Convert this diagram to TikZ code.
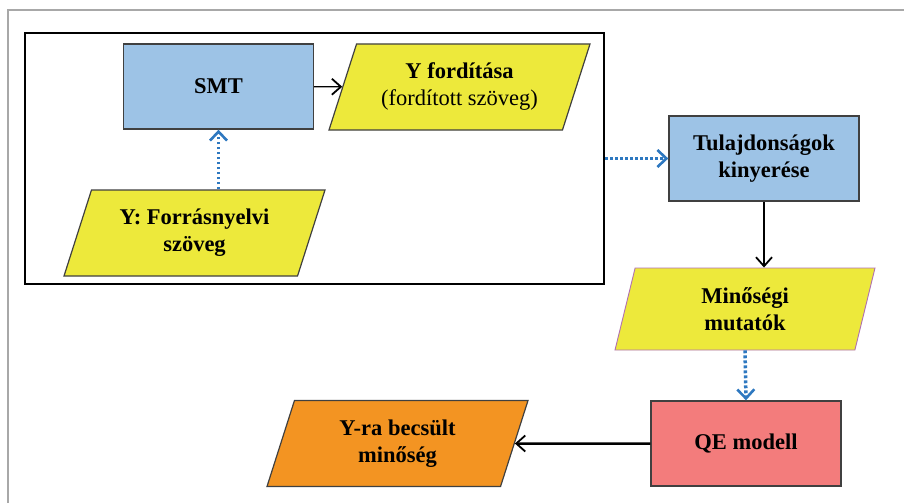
\documentclass[tikz,border=0pt]{standalone}
\usepackage{fontspec}
\setmainfont{Liberation Serif}
\usetikzlibrary{shapes.geometric,arrows.meta}
\definecolor{boxblue}{HTML}{9DC3E6}
\definecolor{boxyellow}{HTML}{EDE93B}
\definecolor{boxorange}{HTML}{F39422}
\definecolor{boxpink}{HTML}{F37C7C}
\definecolor{dotblue}{HTML}{2E78C0}
\definecolor{edgegray}{HTML}{404040}
\definecolor{framegray}{HTML}{A8A8A8}
\definecolor{minborder}{HTML}{B070B0}
\tikzset{
  procbox/.style={rectangle, draw=edgegray, line width=1.4pt, minimum width=190pt, minimum height=85pt, inner sep=0pt, align=center, font=\fontsize{22.5}{27}\selectfont\bfseries},
  databox/.style={trapezium, trapezium left angle=60, trapezium right angle=120, trapezium stretches body=true, draw=edgegray, line width=1.2pt, minimum width=261pt, minimum height=86pt, inner sep=0pt, align=center, font=\fontsize{22.5}{27}\selectfont\bfseries},
  blackarrow/.style={draw=black, line width=1.3pt, -{Straight Barb[length=9pt,width=16pt,line width=1.8pt]}},
  dotarrow/.style={draw=dotblue, line width=3.5pt, dash pattern=on 2.8pt off 2.2pt, -{Straight Barb[length=9pt,width=17pt,line width=2.6pt]}}
}
\begin{document}
\begin{tikzpicture}[x=1pt,y=-1pt]
\useasboundingbox (0,0) rectangle (904,503);
% outer gray frame (top and left only)
\draw[framegray, line width=2pt] (8,503) -- (8,10) -- (904,10);
% inner black frame
\node[draw=black, line width=2.8pt, minimum width=579pt, minimum height=251pt, inner sep=0pt] (frame) at (314.5,158.5) {};
% nodes
\node[procbox, fill=boxblue] (smt) at (218.5,86.5) {SMT};
\node[databox, fill=boxyellow] (yf) at (459.5,87) {Y fordítása\\{\mdseries (fordított szöveg)}};
\node[databox, fill=boxyellow] (yfor) at (194.5,233) {Y: Forrásnyelvi\\szöveg};
\node[procbox, fill=boxblue] (tul) at (764,158.5) {Tulajdonságok\\kinyerése};
\node[databox, trapezium left angle=65, trapezium right angle=115, draw=minborder, line width=0.9pt, minimum width=260pt, minimum height=82pt, fill=boxyellow] (min) at (745,309) {Minőségi\\mutatók};
\node[procbox, fill=boxpink] (qe) at (746,443.5) {QE modell};
\node[databox, fill=boxorange] (yra) at (397.5,443.5) {Y-ra becsült\\minőség};
% connectors
\draw[blackarrow] (smt) -- (yf);
\draw[dotarrow] (smt.south |- yfor.north) -- (smt.south);
\draw[dotarrow] (frame.east) -- (tul.west);
\draw[blackarrow] (tul.south) -- (tul.south |- min.north);
\draw[dotarrow] (min.south) -- (qe.north);
\draw[blackarrow, line width=2.5pt] (qe) -- (yra);
\end{tikzpicture}
\end{document}
